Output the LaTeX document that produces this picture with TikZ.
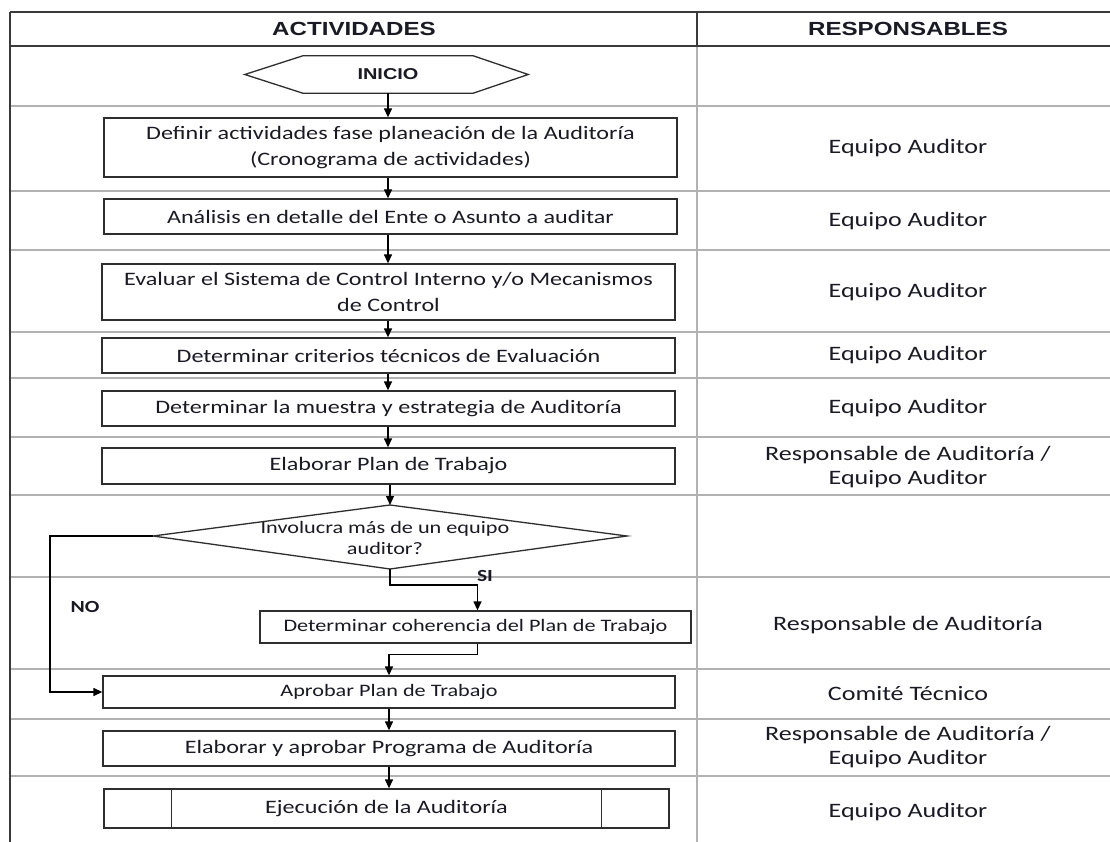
\documentclass[tikz,border=0pt]{standalone}
\usepackage{fontspec}
\setmainfont{Carlito}[FakeStretch=1.27]
\newfontfamily\hdr{Liberation Sans}[FakeStretch=1.27]
\usetikzlibrary{arrows.meta,calc}
\definecolor{gridc}{HTML}{B2B2B2}
\definecolor{darkc}{HTML}{3A3A3A}
\definecolor{boxc}{HTML}{2E2E2E}
\definecolor{txt}{HTML}{1A1A24}
\tikzset{
  gridl/.style={draw=gridc, line width=2pt},
  darkl/.style={draw=darkc, line width=1.5pt},
  boxl/.style={draw=boxc, line width=1.3pt},
  actbox/.style={boxl, rectangle, inner sep=0pt, align=center, text=txt,
     font=\fontsize{19}{26}\selectfont},
  smallbox/.style={actbox, font=\fontsize{17.5}{21}\selectfont},
  resp/.style={align=center, text=txt, inner sep=0pt, font=\fontsize{20.5}{24}\selectfont},
  hdrtxt/.style={text=txt, inner sep=0pt, font=\hdr\bfseries\fontsize{19}{22}\selectfont},
  arr/.style={draw=black, line width=1.3pt, -{Triangle[length=9pt,width=8pt]}},
  lbl/.style={text=txt, inner sep=0pt, font=\bfseries\fontsize{17}{20}\selectfont},
}
\begin{document}
\begin{tikzpicture}[x=1pt,y=-1pt]
\useasboundingbox[fill=white] (0,0) rectangle (1110,842);
% table grid
\foreach \yy in {106,191,250,332,378,437,495,577,669,719,776}
  \draw[gridl] (10,\yy) -- (1110,\yy);
\draw[gridl] (697,46) -- (697,842);
\draw[darkl] (10,12) -- (1110,12);
\draw[darkl] (10,46) -- (1110,46);
\draw[darkl] (697,12) -- (697,46);
\draw[darkl] (10,12) -- (10,842);
% headers
\node[hdrtxt] (h1) at (354,29) {ACTIVIDADES};
\node[hdrtxt] (h2) at (908,29) {RESPONSABLES};
% start
\node[inner sep=0pt, minimum width=170pt, minimum height=37pt, text=txt,
      font=\hdr\bfseries\fontsize{15.7}{18}\selectfont] (inicio) at (388,74.5) {INICIO};
\draw[boxl] (inicio.north west) -- (inicio.north east) -- ([xshift=55pt]inicio.east)
  -- (inicio.south east) -- (inicio.south west) -- ([xshift=-58pt]inicio.west) -- cycle;
% activity boxes
\node[actbox, minimum width=573pt, minimum height=59pt] (n1) at (390.5,147.5)
  {Definir actividades fase planeación de la Auditoría\\(Cronograma de actividades)};
\node[actbox, minimum width=573pt, minimum height=35pt] (n2) at (390.5,216.5)
  {Análisis en detalle del Ente o Asunto a auditar};
\node[actbox, minimum width=573pt, minimum height=56pt] (n3) at (388.5,292)
  {Evaluar el Sistema de Control Interno y/o Mecanismos\\de Control};
\node[actbox, minimum width=573pt, minimum height=35pt] (n4) at (388.5,355.5)
  {Determinar criterios técnicos de Evaluación};
\node[actbox, minimum width=573pt, minimum height=35pt] (n5) at (388.5,408.5)
  {Determinar la muestra y estrategia de Auditoría};
\node[actbox, minimum width=573pt, minimum height=36pt] (n6) at (388.5,466)
  {Elaborar Plan de Trabajo};
% decision
\coordinate (dtop) at (390,505);
\coordinate (dbot) at (390,569);
\coordinate (dleft) at (153,536);
\coordinate (dright) at (627,536);
\draw[boxl] (dtop) -- (dright) -- (dbot) -- (dleft) -- cycle;
\node[align=center, text=txt, inner sep=0pt, font=\fontsize{17.5}{21}\selectfont] (dq) at (385,538)
  {Involucra más de un equipo\\auditor?};
\node[smallbox, minimum width=431pt, minimum height=32pt] (n7) at (475.5,627)
  {Determinar coherencia del Plan de Trabajo};
\node[smallbox, minimum width=572pt, minimum height=32pt] (n8) at (389,692)
  {Aprobar Plan de Trabajo};
\node[actbox, minimum width=572pt, minimum height=35pt] (n9) at (389,748.5)
  {Elaborar y aprobar Programa de Auditoría};
\node[actbox, minimum width=565pt, minimum height=39pt] (n10) at (386.5,808.5)
  {Ejecución de la Auditoría};
\draw[boxl] ([xshift=68pt]n10.north west) -- ([xshift=68pt]n10.south west);
\draw[boxl] ([xshift=-68pt]n10.north east) -- ([xshift=-68pt]n10.south east);
% connectors
\draw[arr] (inicio.south) -- (inicio.south |- n1.north);
\draw[arr] (n1.south -| inicio.south) -- (inicio.south |- n2.north);
\draw[arr] (n2.south -| inicio.south) -- (inicio.south |- n3.north);
\draw[arr] (n3.south -| inicio.south) -- (inicio.south |- n4.north);
\draw[arr] (n4.south -| inicio.south) -- (inicio.south |- n5.north);
\draw[arr] (n5.south -| inicio.south) -- (inicio.south |- n6.north);
\draw[arr] (n6.south -| dtop) -- (dtop);
\coordinate (c1) at (390,585);
\draw[arr] (dbot) -- (c1) -| ([xshift=2pt]n7.north);
\draw[arr] ([xshift=2pt]n7.south) -- ++(0,11) -| (n8.north);
\coordinate (c3) at (50,536);
\draw[arr] (dleft) -- (c3) |- (n8.west);
\draw[arr] (n8.south) -- (n8.south |- n9.north);
\draw[arr] (n9.south) -- (n9.south |- n10.north);
\node[lbl] (si) at (485,576) {SI};
\node[lbl] (no) at (85,607) {NO};
% responsables
\node[resp] (r1) at (908,148) {Equipo Auditor};
\node[resp] (r2) at (908,221) {Equipo Auditor};
\node[resp] (r3) at (908,292) {Equipo Auditor};
\node[resp] (r4) at (908,355) {Equipo Auditor};
\node[resp] (r5) at (908,408) {Equipo Auditor};
\node[resp] (r6) at (908,467) {Responsable de Auditoría /\\Equipo Auditor};
\node[resp] (r7) at (908,625) {Responsable de Auditoría};
\node[resp] (r8) at (908,694) {Comité Técnico};
\node[resp] (r9) at (908,747) {Responsable de Auditoría /\\Equipo Auditor};
\node[resp] (r10) at (908,812) {Equipo Auditor};
\end{tikzpicture}
\end{document}
